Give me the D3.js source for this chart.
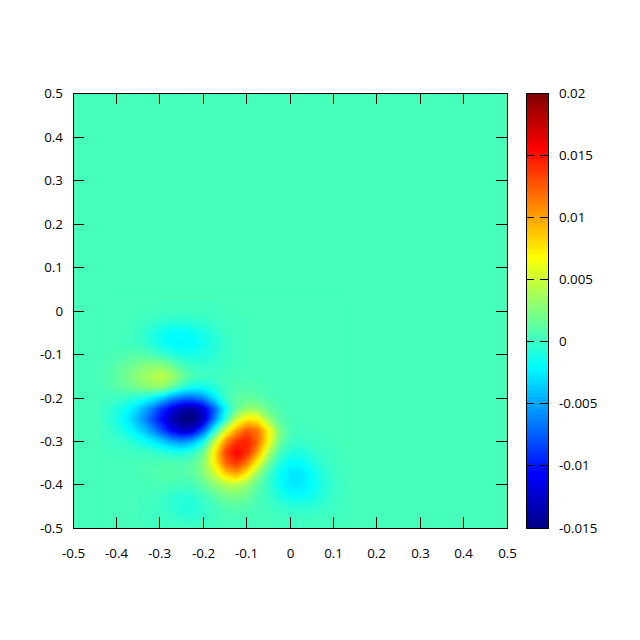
<!DOCTYPE html>
<html><head><meta charset="utf-8">
<script src="https://cdn.jsdelivr.net/npm/d3@7"></script>
<style>
html,body{margin:0;padding:0;background:#fff}
svg{display:block}
text{font-family:"Open Sans",sans-serif;font-size:13.33px;fill:#000}
</style></head><body>
<svg id="c" width="640" height="640"></svg>
<script>
// Field values in units of 1e-4. Rows top to bottom.
const gridXs = [-0.425,-0.4,-0.375,-0.35,-0.325,-0.3,-0.275,-0.25,-0.225,-0.2,-0.175,-0.15,-0.125,-0.1,-0.075,-0.05,-0.025,0,0.025,0.05,0.075,0.1,0.125];
const gridYs = [0.025,0,-0.025,-0.05,-0.075,-0.1,-0.125,-0.15,-0.175,-0.2,-0.225,-0.25,-0.275,-0.3,-0.325,-0.35,-0.375,-0.4,-0.425,-0.45,-0.475,-0.5];
const fieldRows = [
[4,4,4,4,4,4,4,4,4,4,4,4,4,4,4,4,4,4,4,4,4,4,4],
[4,4,4,4,4,3,3,3,3,3,3,4,4,4,4,4,4,4,4,4,4,4,4],
[4,4,4,2,0,-2,-5,-5,-4,-2,0,2,3,4,4,4,4,4,4,4,4,4,4],
[4,4,4,1,-6,-13,-18,-19,-15,-10,-4,1,3,4,4,4,4,4,4,4,4,4,4],
[4,4,3,1,-5,-13,-19,-21,-19,-13,-7,-1,2,4,4,4,4,4,4,4,4,4,4],
[5,7,9,10,7,1,-6,-11,-11,-8,-4,0,3,4,4,4,4,4,4,4,4,4,4],
[7,11,17,23,28,28,19,6,0,-2,-1,1,3,4,4,4,4,4,4,4,4,4,4],
[8,13,22,31,39,47,38,20,7,3,3,4,5,5,5,4,4,4,4,4,4,4,4],
[7,11,16,23,30,32,18,-2,-13,-13,-6,3,8,8,7,5,4,4,4,4,4,4,4],
[3,2,-2,-8,-16,-32,-55,-70,-72,-58,-28,0,12,14,12,8,5,4,4,4,4,4,4],
[0,-7,-18,-35,-58,-88,-115,-136,-142,-122,-75,-20,15,32,30,16,8,5,4,4,4,4,4],
[-1,-10,-25,-46,-72,-100,-130,-148,-152,-128,-62,-5,50,78,72,34,12,6,4,4,4,4,4],
[1,-5,-15,-30,-50,-78,-108,-128,-122,-75,-10,55,100,128,118,72,24,6,3,4,4,4,4],
[3,1,-3,-10,-20,-33,-50,-58,-45,-15,45,108,140,148,122,68,18,2,0,2,3,4,4],
[4,3,3,2,1,-3,-8,-10,-3,18,75,135,158,145,102,42,6,-7,-8,-3,1,3,4],
[5,5,5,6,7,8,8,8,12,28,72,122,140,115,65,18,-8,-19,-18,-9,-2,2,4],
[5,5,5,6,8,10,10,10,13,27,50,85,100,72,30,2,-16,-27,-27,-17,-6,1,3],
[5,5,5,5,5,6,5,3,5,15,28,40,43,32,13,-1,-16,-27,-26,-17,-7,-1,2],
[5,5,4,4,3,2,-2,-5,-4,3,12,22,24,18,8,0,-9,-17,-18,-13,-6,0,3],
[4,4,4,4,3,1,-3,-7,-7,-2,4,9,11,10,6,2,-1,-4,-5,-4,-1,1,3],
[4,4,4,4,3,2,0,-3,-4,-1,2,5,6,6,5,4,3,2,2,2,3,3,4],
[4,4,4,4,4,4,4,4,4,4,4,4,4,4,4,4,4,4,4,4,4,4,4]
];
const backgroundValue = 5;
const xTicks = [-0.5,-0.4,-0.3,-0.2,-0.1,0,0.1,0.2,0.3,0.4,0.5];
const xTickLabels = ["-0.5","-0.4","-0.3","-0.2","-0.1","0","0.1","0.2","0.3","0.4","0.5"];
const yTicks = xTicks;
const yTickLabels = xTickLabels;
const cbTicks = [-0.015,-0.01,-0.005,0,0.005,0.01,0.015,0.02];
const cbTickLabels = ["-0.015","-0.01","-0.005","0","0.005","0.01","0.015","0.02"];
const cbDomain = [-0.015,0.02];
const jetStops = [0,0.125,0.375,0.625,0.875,1];
const jetColors = ["#000080","#0000ff","#00ffff","#ffff00","#ff0000","#800000"];

const L=73,R=507,T=93,B=528,CL=526,CR=548;
const svg=d3.select("#c");
// field scales are continuous; tick scales snap to whole pixels
const x=d3.scaleLinear().domain([-0.5,0.5]).range([L+0.5,R+0.5]);
const y=d3.scaleLinear().domain([-0.5,0.5]).range([B+0.5,T+0.5]);
const xTick=d3.scaleLinear().domain([-0.5,0.5]).rangeRound([72.5,506.5]);
const yTick=d3.scaleLinear().domain([-0.5,0.5]).rangeRound([527.9,93.4]);
const cbTick=d3.scaleLinear().domain(cbDomain).rangeRound([527.5,92.9]);
const norm=d3.scaleLinear().domain(cbDomain).range([0,1]);
const jet=d3.scaleLinear().domain(jetStops).range(jetColors).clamp(true);
const color=v=>jet(norm(v));
const defs=svg.append("defs");
defs.append("clipPath").attr("id","plot").append("rect")
  .attr("x",L+0.5).attr("y",T+0.5).attr("width",R-L).attr("height",B-T);
defs.append("filter").attr("id","soft").attr("x","-5%").attr("y","-5%").attr("width","110%").attr("height","110%")
  .append("feGaussianBlur").attr("stdDeviation",1.6);

const plot=svg.append("g").attr("clip-path","url(#plot)");
plot.append("rect").attr("x",L).attr("y",T).attr("width",R-L+1).attr("height",B-T+1)
  .attr("fill",color(backgroundValue*1e-4));

const nx=gridXs.length, ny=gridYs.length;
const flat=fieldRows.flat();
const levels=d3.range(-152,200,2);
const contours=d3.contours().size([nx,ny]).smooth(true).thresholds(levels)(flat);
const cx=d3.scaleLinear().domain([0.5,nx-0.5]).range([x(gridXs[0]),x(gridXs[nx-1])]);
const cy=d3.scaleLinear().domain([0.5,ny-0.5]).range([y(gridYs[0]),y(gridYs[ny-1])]);
const path=d3.geoPath(d3.geoTransform({point(a,b){this.stream.point(cx(a),cy(b));}}));
plot.append("g").attr("filter","url(#soft)").selectAll("path").data(contours).join("path")
  .attr("shape-rendering","crispEdges")
  .attr("d",path).attr("fill",d=>color((d.value+1)*1e-4));

function styleAxis(g){g.selectAll("path,line").attr("stroke","#000").attr("stroke-width",1);g.selectAll(".domain").attr("fill","none");g.selectAll("text").attr("fill","#000").attr("font-family",null).attr("font-size",null);}
const lab=(ticks,labels)=>d=>labels[ticks.indexOf(d)];
svg.append("g").attr("transform",`translate(0,${B})`)
  .call(d3.axisBottom(xTick).tickValues(xTicks).tickFormat(lab(xTicks,xTickLabels)).tickSizeInner(-11).tickSizeOuter(0).tickPadding(21)).call(styleAxis);
svg.append("g").attr("transform",`translate(0,${T})`)
  .call(d3.axisTop(xTick).tickValues(xTicks).tickFormat("").tickSizeInner(-11).tickSizeOuter(0)).call(styleAxis);
svg.append("g").attr("transform",`translate(${L},0)`)
  .call(d3.axisLeft(yTick).tickValues(yTicks).tickFormat(lab(yTicks,yTickLabels)).tickSizeInner(-11).tickSizeOuter(0).tickPadding(10)).call(styleAxis);
svg.append("g").attr("transform",`translate(${R},0)`)
  .call(d3.axisRight(yTick).tickValues(yTicks).tickFormat("").tickSizeInner(-11).tickSizeOuter(0)).call(styleAxis);

// colour bar
const cb=d3.scaleLinear().domain(cbDomain).range([B,T]);
const bandN=128, bandValues=d3.range(bandN).map(i=>cbDomain[0]+(cbDomain[1]-cbDomain[0])*(i+0.5)/bandN);
const bandH=(B-T)/bandN;
svg.append("g").attr("shape-rendering","crispEdges").selectAll("rect").data(bandValues).join("rect")
  .attr("x",CL).attr("width",CR-CL).attr("y",d=>Math.floor(cb(d)-bandH/2)).attr("height",Math.ceil(bandH)+1)
  .attr("fill",d=>color(d));
svg.append("g").attr("transform",`translate(${CR},0)`)
  .call(d3.axisRight(cbTick).tickValues(cbTicks).tickFormat(lab(cbTicks,cbTickLabels)).tickSizeInner(-8).tickSizeOuter(0).tickPadding(11)).call(styleAxis);
svg.append("g").attr("transform",`translate(${CL},0)`)
  .call(d3.axisLeft(cbTick).tickValues(cbTicks).tickFormat("").tickSizeInner(-8).tickSizeOuter(0)).call(styleAxis);
svg.append("rect").attr("x",CL+0.5).attr("y",T+0.5).attr("width",CR-CL).attr("height",B-T).attr("fill","none").attr("stroke","#000");
svg.append("rect").attr("x",L+0.5).attr("y",T+0.5).attr("width",R-L).attr("height",B-T).attr("fill","none").attr("stroke","#000");
</script>
</body></html>
